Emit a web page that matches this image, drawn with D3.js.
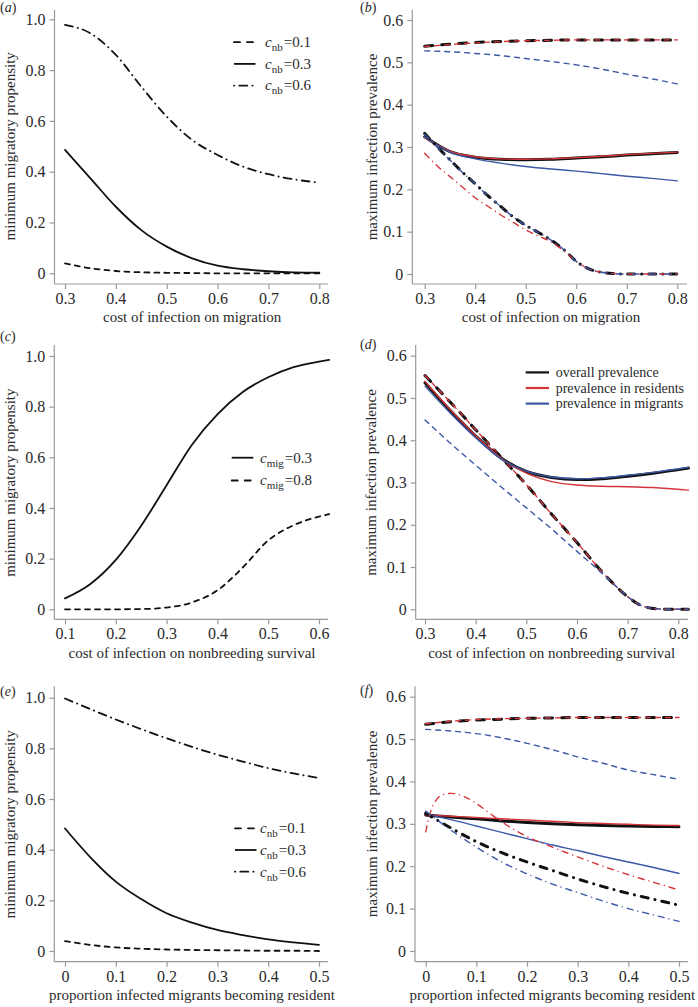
<!DOCTYPE html>
<html><head><meta charset="utf-8">
<script src="https://cdn.jsdelivr.net/npm/d3@7"></script>
<style>
body{margin:0;background:#fff}
svg{display:block}
text{font-family:"Liberation Serif","Times New Roman",Times,serif}
</style>
</head><body>
<svg id="chart" width="698" height="1007"></svg>
<script>
// ---------------- DATA ----------------
// Panel (a): cost of infection on migration vs minimum migratory propensity
const aX = [0.3,0.35,0.4,0.45,0.5,0.55,0.6,0.65,0.7,0.75,0.8];
const aNb01 = [0.039,0.02,0.009,0.004,0.002,0.001,0,0,0,0,0];
const aNb03 = [0.486,0.374,0.262,0.17,0.105,0.059,0.030,0.016,0.008,0.004,0.003];
const aNb06 = [0.978,0.945,0.86,0.735,0.617,0.525,0.466,0.42,0.39,0.37,0.357];

// Panel (b): maximum infection prevalence
const bX = [0.3,0.35,0.4,0.45,0.5,0.55,0.6,0.65,0.7,0.75,0.8];
const bDashAll = [0.538,0.543,0.547,0.549,0.551,0.552,0.553,0.553,0.553,0.553,0.553];
const bDashRes = [0.537,0.542,0.546,0.549,0.551,0.552,0.553,0.553,0.553,0.553,0.553];
const bDashMig = [0.527,0.525,0.521,0.516,0.509,0.502,0.494,0.484,0.472,0.461,0.449];
const bSolidAll = [0.324,0.289,0.276,0.271,0.270,0.271,0.274,0.277,0.281,0.284,0.287];
const bSolidRes = [0.322,0.290,0.277,0.272,0.271,0.272,0.275,0.278,0.282,0.285,0.288];
const bSolidMig = [0.324,0.288,0.272,0.262,0.254,0.248,0.243,0.237,0.231,0.226,0.220];
const bXd = [0.3,0.325,0.35,0.375,0.4,0.425,0.45,0.475,0.5,0.525,0.55,0.575,0.6,0.625,0.65,0.675,0.7,0.75,0.8];
const bDotAll = [0.332,0.300,0.270,0.240,0.213,0.185,0.160,0.135,0.115,0.098,0.080,0.058,0.030,0.012,0.004,0.001,0,0,0];
const bDotRes = [0.285,0.255,0.230,0.205,0.180,0.160,0.140,0.122,0.104,0.090,0.076,0.055,0.030,0.012,0.004,0.001,0,0,0];
const bDotMig = [0.330,0.299,0.269,0.240,0.213,0.185,0.160,0.135,0.115,0.098,0.080,0.058,0.030,0.012,0.004,0.001,0,0,0];

// Panel (c): cost of infection on nonbreeding survival
const cX = [0.1,0.15,0.2,0.25,0.3,0.35,0.4,0.45,0.5,0.55,0.6,0.62];
const cMig03 = [0.043,0.1,0.195,0.33,0.49,0.65,0.77,0.858,0.916,0.956,0.978,0.985];
const cMig08 = [0,0,0,0.001,0.007,0.027,0.075,0.165,0.272,0.332,0.366,0.376];

// Panel (d)
const dX = [0.3,0.35,0.4,0.45,0.5,0.55,0.6,0.65,0.7,0.72,0.74,0.76,0.78,0.8,0.82];
const dDashAll = [0.553,0.490,0.425,0.360,0.295,0.225,0.158,0.088,0.030,0.013,0.004,0.001,0,0,0];
const dDashRes = [0.553,0.490,0.425,0.360,0.295,0.225,0.158,0.088,0.030,0.013,0.004,0.001,0,0,0];
const dDashMig = [0.448,0.393,0.341,0.290,0.240,0.190,0.137,0.085,0.030,0.013,0.004,0.001,0,0,0];
const dXs = [0.3,0.35,0.4,0.45,0.5,0.55,0.6,0.65,0.7,0.75,0.82];
const dSolidAll = [0.536,0.470,0.410,0.358,0.326,0.312,0.307,0.309,0.315,0.322,0.334];
const dSolidRes = [0.539,0.472,0.411,0.358,0.322,0.302,0.294,0.291,0.290,0.288,0.282];
const dSolidMig = [0.528,0.464,0.406,0.356,0.327,0.313,0.309,0.311,0.317,0.324,0.336];

// Panel (e): proportion infected migrants becoming resident
const eX = [0,0.05,0.1,0.15,0.2,0.25,0.3,0.35,0.4,0.45,0.5];
const eNb01 = [0.039,0.024,0.014,0.009,0.006,0.004,0.003,0.002,0.001,0.001,0];
const eNb03 = [0.484,0.37,0.274,0.205,0.149,0.112,0.083,0.063,0.046,0.034,0.024];
const eNb06 = [0.997,0.955,0.914,0.876,0.84,0.806,0.775,0.748,0.722,0.701,0.683];

// Panel (f)
const fX = [0,0.05,0.1,0.15,0.2,0.25,0.3,0.35,0.4,0.45,0.5];
const fDashAll = [0.535,0.541,0.545,0.547,0.549,0.550,0.551,0.551,0.551,0.551,0.551];
const fDashRes = [0.536,0.542,0.546,0.548,0.549,0.550,0.551,0.551,0.551,0.551,0.551];
const fDashMig = [0.523,0.519,0.513,0.503,0.490,0.475,0.458,0.443,0.427,0.416,0.405];
const fSolidAll = [0.321,0.316,0.312,0.307,0.303,0.300,0.298,0.296,0.295,0.294,0.293];
const fSolidRes = [0.321,0.318,0.315,0.312,0.309,0.306,0.303,0.301,0.299,0.297,0.296];
const fSolidMig = [0.323,0.310,0.295,0.280,0.265,0.250,0.237,0.223,0.210,0.197,0.183];
const fDotAll = [0.325,0.290,0.258,0.232,0.210,0.190,0.170,0.152,0.136,0.122,0.108];
const fDotMig = [0.330,0.285,0.245,0.210,0.182,0.158,0.138,0.118,0.100,0.085,0.070];
const fXr = [0,0.01,0.02,0.035,0.05,0.075,0.1,0.125,0.15,0.2,0.25,0.3,0.35,0.4,0.45,0.5];
const fDotRes = [0.281,0.330,0.355,0.369,0.372,0.365,0.348,0.326,0.305,0.270,0.245,0.222,0.200,0.180,0.162,0.144];

// Ticks
const migTicks = [0.3,0.4,0.5,0.6,0.7,0.8];
const migTickLabels = ["0.3","0.4","0.5","0.6","0.7","0.8"];
const nbTicks = [0.1,0.2,0.3,0.4,0.5,0.6];
const nbTickLabels = ["0.1","0.2","0.3","0.4","0.5","0.6"];
const propTicks = [0,0.1,0.2,0.3,0.4,0.5];
const propTickLabels = ["0","0.1","0.2","0.3","0.4","0.5"];
const minPropTicks = [0,0.2,0.4,0.6,0.8,1.0];
const minPropTickLabels = ["0","0.2","0.4","0.6","0.8","1.0"];
const prevTicks = [0,0.1,0.2,0.3,0.4,0.5,0.6];
const prevTickLabels = ["0","0.1","0.2","0.3","0.4","0.5","0.6"];

// Labels
const titleMig = "cost of infection on migration";
const titleNb = "cost of infection on nonbreeding survival";
const titleProp = "proportion infected migrants becoming resident";
const yTitleMin = "minimum migratory propensity";
const yTitlePrev = "maximum infection prevalence";
const legNb = ["0.1","0.3","0.6"];
const legMig = ["0.3","0.8"];
const legPrev = ["overall prevalence","prevalence in residents","prevalence in migrants"];

// ---------------- STYLES ----------------
const RED = "#d3353a", BLUE = "#3d58a6", BLACK = "#111";
const AXIS = "#9a9a9a", TXT = "#2a2a2a";
const mono = {
  dash: {color: BLACK, w: 1.8, dash: "5,5"},
  solid: {color: BLACK, w: 1.8, dash: null},
  dot: {color: BLACK, w: 1.8, dash: "8,5,0.3,5"}
};
const monoLeg = {
  dash: {color: BLACK, w: 1.8, dash: "6,7", off: 0},
  solid: {color: BLACK, w: 1.8, dash: null},
  dot: {color: BLACK, w: 1.8, dash: "8,5,0.3,5", off: 13}
};
function st(kind, col) {
  if (col === "k") {
    if (kind === "dash") return {color: BLACK, w: 3, dash: "8,9"};
    if (kind === "solid") return {color: BLACK, w: 3, dash: null};
    return {color: BLACK, w: 3, dash: "7,7,0.1,7"};
  }
  const c = col === "r" ? RED : BLUE;
  if (kind === "dash") return {color: c, w: 1.4, dash: "5,5"};
  if (kind === "solid") return {color: c, w: 1.4, dash: null};
  return {color: c, w: 1.4, dash: "6,5,0.1,5"};
}

// ---------------- PANELS ----------------
const panels = [
  {id:"a", xDom:[0.3,0.8], xR:[65,319.3], yDom:[0,1], yR:[273.3,19.3], axX:54.5, axY:284, xEnd:328.3, yTop:10,
   xT:migTicks, xL:migTickLabels, yT:minPropTicks, yL:minPropTickLabels, xTitle:titleMig, yTitle:yTitleMin,
   lab:[0,11.5], xtY:322, ytX:14.5,
   series:[{x:aX,y:aNb01,s:mono.dash},{x:aX,y:aNb03,s:mono.solid},{x:aX,y:aNb06,s:mono.dot}],
   legend:{type:"nb", x0:234, x1:255.5, tx:265, ys:[42.2,63.9,85.6], items:[monoLeg.dash,monoLeg.solid,monoLeg.dot], vals:legNb}},
  {id:"b", xDom:[0.3,0.8], xR:[424.7,677.3], yDom:[0,0.6], yR:[274,20], axX:412.3, axY:284, xEnd:687, yTop:10,
   xT:migTicks, xL:migTickLabels, yT:prevTicks, yL:prevTickLabels, xTitle:titleMig, yTitle:yTitlePrev,
   lab:[360,12], xtY:322, ytX:377,
   series:[
     {x:bX,y:bDashAll,s:st("dash","k")},{x:bX,y:bDashRes,s:st("dash","r")},{x:bX,y:bDashMig,s:st("dash","b")},
     {x:bX,y:bSolidAll,s:st("solid","k")},{x:bX,y:bSolidRes,s:st("solid","r")},{x:bX,y:bSolidMig,s:st("solid","b")},
     {x:bXd,y:bDotAll,s:st("dot","k")},{x:bXd,y:bDotRes,s:st("dot","r")},{x:bXd,y:bDotMig,s:st("dot","b")}]},
  {id:"c", xDom:[0.1,0.6], xR:[65,319], yDom:[0,1], yR:[609.3,356], axX:54.3, axY:619.3, xEnd:328, yTop:345,
   xT:nbTicks, xL:nbTickLabels, yT:minPropTicks, yL:minPropTickLabels, xTitle:titleNb, yTitle:yTitleMin,
   lab:[0,341], xtY:658, ytX:14.5,
   series:[{x:cX,y:cMig03,s:mono.solid},{x:cX,y:cMig08,s:mono.dash}],
   legend:{type:"mig", x0:231.7, x1:253.3, tx:260, ys:[457.7,480.5], items:[monoLeg.solid,monoLeg.dash], vals:legMig}},
  {id:"d", xDom:[0.3,0.8], xR:[425,678.3], yDom:[0,0.6], yR:[609.3,355.7], axX:415.7, axY:619.3, xEnd:688, yTop:345,
   xT:migTicks, xL:migTickLabels, yT:prevTicks, yL:prevTickLabels, xTitle:titleNb, yTitle:yTitlePrev,
   lab:[360,349], xtY:658, ytX:376,
   series:[
     {x:dX,y:dDashAll,s:st("dash","k")},{x:dX,y:dDashRes,s:st("dash","r")},{x:dX,y:dDashMig,s:st("dash","b")},
     {x:dXs,y:dSolidAll,s:st("solid","k")},{x:dXs,y:dSolidRes,s:st("solid","r")},{x:dXs,y:dSolidMig,s:st("solid","b")}],
   legend:{type:"text", x0:525.7, x1:549, tx:555.7, ys:[372.4,388,403.6],
     items:[{color:BLACK,w:2.2},{color:RED,w:2.2},{color:BLUE,w:2.2}], vals:legPrev}},
  {id:"e", xDom:[0,0.5], xR:[65,319], yDom:[0,1], yR:[951,697.7], axX:54.3, axY:961.7, xEnd:328, yTop:686.5,
   xT:propTicks, xL:propTickLabels, yT:minPropTicks, yL:minPropTickLabels, xTitle:titleProp, yTitle:yTitleMin,
   lab:[0,696], xtY:999.5, ytX:14.5,
   series:[{x:eX,y:eNb01,s:mono.dash},{x:eX,y:eNb03,s:mono.solid},{x:eX,y:eNb06,s:mono.dot}],
   legend:{type:"nb", x0:235, x1:256.5, tx:260, ys:[828.3,850,871.7], items:[monoLeg.dash,monoLeg.solid,monoLeg.dot], vals:legNb}},
  {id:"f", xDom:[0,0.5], xR:[425.7,679], yDom:[0,0.6], yR:[951,696.7], axX:415, axY:961.7, xEnd:688, yTop:686.5,
   xT:propTicks, xL:propTickLabels, yT:prevTicks, yL:prevTickLabels, xTitle:titleProp, yTitle:yTitlePrev,
   lab:[360,695], xtY:999.5, ytX:377,
   series:[
     {x:fX,y:fDashAll,s:st("dash","k")},{x:fX,y:fDashRes,s:st("dash","r")},{x:fX,y:fDashMig,s:st("dash","b")},
     {x:fX,y:fSolidAll,s:st("solid","k")},{x:fX,y:fSolidRes,s:st("solid","r")},{x:fX,y:fSolidMig,s:st("solid","b")},
     {x:fX,y:fDotAll,s:st("dot","k")},{x:fXr,y:fDotRes,s:st("dot","r")},{x:fX,y:fDotMig,s:st("dot","b")}]}
];

const svg = d3.select("#chart");

panels.forEach(p => {
  const g = svg.append("g").attr("class", "panel-" + p.id);
  const x = d3.scaleLinear().domain(p.xDom).range(p.xR);
  const y = d3.scaleLinear().domain(p.yDom).range(p.yR);

  // axis lines (L shape, offset from data)
  g.append("line").attr("x1", p.axX).attr("x2", p.xEnd).attr("y1", p.axY).attr("y2", p.axY)
    .attr("stroke", AXIS).attr("stroke-width", 1.2);
  g.append("line").attr("x1", p.axX).attr("x2", p.axX).attr("y1", p.yTop).attr("y2", p.axY)
    .attr("stroke", AXIS).attr("stroke-width", 1.2);

  const xa = d3.axisBottom(x).tickValues(p.xT).tickSize(5).tickPadding(3.5)
    .tickFormat((d, i) => p.xL[i]);
  const gx = g.append("g").attr("transform", `translate(0,${p.axY})`).call(xa);
  gx.select(".domain").remove();
  gx.selectAll(".tick line").attr("stroke", AXIS).attr("stroke-width", 1.2);
  gx.selectAll(".tick text").attr("fill", TXT).style("font-size", "16px")
    .style("font-family", '"Liberation Serif",serif');

  const ya = d3.axisLeft(y).tickValues(p.yT).tickSize(5).tickPadding(4)
    .tickFormat((d, i) => p.yL[i]);
  const gy = g.append("g").attr("transform", `translate(${p.axX},0)`).call(ya);
  gy.select(".domain").remove();
  gy.selectAll(".tick line").attr("stroke", AXIS).attr("stroke-width", 1.2);
  gy.selectAll(".tick text").attr("fill", TXT).style("font-size", "16px")
    .style("font-family", '"Liberation Serif",serif');

  // titles
  g.append("text").attr("x", (p.xR[0] + p.xR[1]) / 2).attr("y", p.xtY)
    .attr("text-anchor", "middle").attr("fill", TXT).style("font-size", "15px").text(p.xTitle);
  const yc = (p.yR[0] + p.yR[1]) / 2;
  g.append("text").attr("transform", `translate(${p.ytX},${yc}) rotate(-90)`)
    .attr("text-anchor", "middle").attr("fill", TXT).style("font-size", "15px").text(p.yTitle);

  // panel label
  const lt = g.append("text").attr("x", p.lab[0]).attr("y", p.lab[1]).attr("fill", TXT).style("font-size", "14px");
  lt.append("tspan").text("(");
  lt.append("tspan").style("font-style", "italic").text(p.id);
  lt.append("tspan").text(")");

  // series
  const line = d3.line().curve(d3.curveMonotoneX);
  p.series.forEach(s => {
    const pts = s.x.map((xv, i) => [x(xv), y(s.y[i])]);
    g.append("path").attr("d", line(pts)).attr("fill", "none")
      .attr("stroke", s.s.color).attr("stroke-width", s.s.w)
      .attr("stroke-linecap", "round").attr("stroke-linejoin", "round")
      .attr("stroke-dasharray", s.s.dash);
  });

  // legend
  if (p.legend) {
    const L = p.legend;
    L.ys.forEach((yy, i) => {
      const it = L.items[i];
      g.append("line").attr("x1", L.x0).attr("x2", L.x1).attr("y1", yy).attr("y2", yy)
        .attr("stroke", it.color).attr("stroke-width", it.w)
        .attr("stroke-linecap", it.dash ? "round" : "butt")
        .attr("stroke-dasharray", it.dash || null)
        .attr("stroke-dashoffset", it.off || 0);
      if (L.type === "text") {
        g.append("text").attr("x", L.tx).attr("y", yy + 4.5).attr("fill", TXT)
          .style("font-size", "14px").text(L.vals[i]);
      } else {
        const t = g.append("text").attr("x", L.tx).attr("y", yy + 4.8).attr("fill", TXT).style("font-size", "15px");
        t.append("tspan").style("font-style", "italic").text("c");
        t.append("tspan").attr("dy", 4).style("font-size", "11px").text(L.type === "nb" ? "nb" : "mig");
        t.append("tspan").attr("dy", -4).attr("dx", 1).text("=" + L.vals[i]);
      }
    });
  }
});
</script>
</body></html>
